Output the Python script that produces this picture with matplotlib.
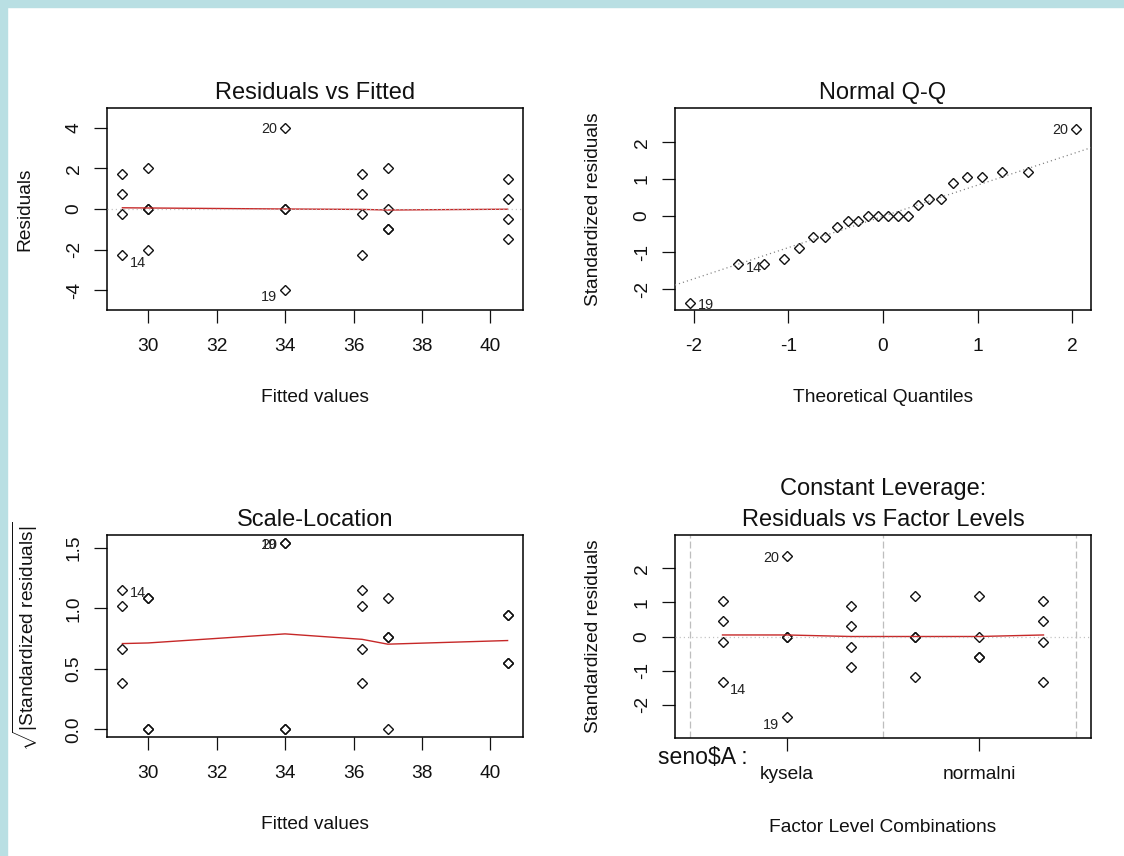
import matplotlib
matplotlib.use('Agg')
import matplotlib.pyplot as plt
from matplotlib.patches import Rectangle
import numpy as np

plt.rcParams['font.family'] = ['Liberation Sans', 'DejaVu Sans']
plt.rcParams['axes.unicode_minus'] = False
plt.rcParams['lines.scale_dashes'] = False
plt.rcParams['mathtext.fontset'] = 'custom'
plt.rcParams['mathtext.rm'] = 'Liberation Sans'
plt.rcParams['mathtext.it'] = 'Liberation Sans:italic'
plt.rcParams['mathtext.bf'] = 'Liberation Sans:bold'

obs_id = list(range(1, 25))
fitted = [30, 30, 30, 30, 37, 37, 37, 37, 40.5, 40.5, 40.5, 40.5,
          29.25, 29.25, 29.25, 29.25, 34, 34, 34, 34, 36.25, 36.25, 36.25, 36.25]
resid = [2, 0, 0, -2, 2, 0, -1, -1, 1.5, 0.5, -0.5, -1.5,
         1.75, -2.25, 0.75, -0.25, 0, 0, -4, 4, 1.75, 0.75, -0.25, -2.25]
std_resid = [1.18, 0, 0, -1.18, 1.18, 0, -0.59, -0.59, 0.89, 0.30, -0.30, -0.89,
             1.04, -1.33, 0.44, -0.15, 0, 0, -2.37, 2.37, 1.04, 0.44, -0.15, -1.33]
factor_pos = [4, 4, 4, 4, 5, 5, 5, 5, 3, 3, 3, 3,
              1, 1, 1, 1, 2, 2, 2, 2, 6, 6, 6, 6]
factor_levels = ['kysela', 'normalni']
factor_level_at = [2, 5]
factor_bounds = [0.5, 3.5, 6.5]
theo_q = [-2.04, -1.53, -1.26, -1.05, -0.89, -0.74, -0.61, -0.49, -0.37, -0.26, -0.16, -0.05,
          0.05, 0.16, 0.26, 0.37, 0.49, 0.61, 0.74, 0.89, 1.05, 1.26, 1.53, 2.04]
qq_slope = 0.85
qq_intercept = -0.02

smooth_x = [29.25, 30, 34, 36.25, 37, 40.5]
smooth_rvf = [0.06, 0.05, 0.0, -0.02, -0.05, -0.01]
smooth_sl = [0.71, 0.715, 0.79, 0.745, 0.705, 0.735]
smooth_fx = [1, 2, 3, 4, 5, 6]
smooth_flv = [0.045, 0.045, 0.0, 0.0, 0.0, 0.045]

labelled = [14, 19, 20]

fitted = np.array(fitted)
resid = np.array(resid)
std_resid = np.array(std_resid)
factor_pos = np.array(factor_pos)
sqrt_std = np.sqrt(np.abs(std_resid))
qq_x = np.zeros(len(std_resid))
qq_x[np.argsort(std_resid, kind='stable')] = theo_q

W, H = 1124, 856
BORDER = '#b9dfe3'
RED = '#c62828'
GRAY = '#bebebe'
TXT = 13.8
MAIN = 17
ID = 10.4

fig = plt.figure(figsize=(W / 100, H / 100), dpi=100)
fig.patches.append(Rectangle((0, 1 - 7 / H), 1, 7 / H, transform=fig.transFigure,
                             color=BORDER, zorder=0))
fig.patches.append(Rectangle((0, 0), 7 / W, 1, transform=fig.transFigure,
                             color=BORDER, zorder=0))


def panel(x0, y0, x1, y1):
    ax = fig.add_axes([x0 / W, 1 - y1 / H, (x1 - x0) / W, (y1 - y0) / H])
    for s in ax.spines.values():
        s.set_linewidth(1.1)
        s.set_color('black')
    ax.tick_params(length=9.1, width=0.9, labelsize=TXT, colors='#111111')
    ax.tick_params(axis='x', pad=17.5)
    ax.tick_params(axis='y', pad=14.5, labelrotation=90)
    return ax


def finish(ax, title, xlabel, ylabel, ly=-0.435):
    plt.setp(ax.get_yticklabels(), ha='center', va='center')
    plt.setp(ax.get_xticklabels(), va='center')
    if isinstance(title, str):
        title = [title]
    for i, t in enumerate(reversed(title)):
        ax.text(0.5, 1 + (9 + 31 * i) / 202, t, transform=ax.transAxes,
                ha='center', va='baseline', fontsize=MAIN, color='#111111')
    ax.text(0.5, ly, xlabel, transform=ax.transAxes, ha='center', va='center',
            fontsize=TXT, color='#111111')
    ax.text(-0.197, 0.5, ylabel, transform=ax.transAxes, ha='center', va='center',
            rotation=90, fontsize=TXT, color='#111111')


def points(ax, x, y):
    ax.plot(x, y, ls='none', marker='D', ms=4.8, mfc='none', mec='#111111',
            mew=1.0, zorder=3)


def ids(ax, x, y, side, dys):
    for k, n in enumerate(labelled):
        i = obs_id.index(n)
        dx = 5.5 if side[k] == 'r' else -5.5
        ax.annotate(str(n), (x[i], y[i]), xytext=(dx, dys[k]), textcoords='offset points',
                    ha='left' if side[k] == 'r' else 'right', va='center',
                    fontsize=ID, color='#222222', annotation_clip=False)


# Residuals vs Fitted
ax1 = panel(107, 108, 523, 310)
points(ax1, fitted, resid)
ax1.plot(smooth_x, smooth_rvf, color=RED, lw=1.0, zorder=4)
ax1.axhline(0, color=GRAY, lw=0.9, dashes=(0.8, 2.2), zorder=5)
ax1.set_xlim(28.8, 40.95)
ax1.set_ylim(-4.98, 4.98)
ax1.set_xticks([30, 32, 34, 36, 38, 40])
ax1.set_yticks([-4, -2, 0, 2, 4])
ids(ax1, fitted, resid, ['r', 'l', 'l'], [-6, -5, -1])
finish(ax1, 'Residuals vs Fitted', 'Fitted values', 'Residuals')

# Normal Q-Q
ax2 = panel(675, 108, 1091, 310)
points(ax2, qq_x, std_resid)
ax2.axline((0, qq_intercept), slope=qq_slope, color='#7f7f7f', lw=0.9,
           dashes=(0.8, 2.2), zorder=5)
ax2.set_xlim(-2.2, 2.2)
ax2.set_ylim(-2.57, 2.93)
ax2.set_xticks([-2, -1, 0, 1, 2])
ax2.set_yticks([-2, -1, 0, 1, 2])
ids(ax2, qq_x, std_resid, ['r', 'r', 'l'], [-2.5, -1.5, -0.8])
finish(ax2, 'Normal Q-Q', 'Theoretical Quantiles', 'Standardized residuals')

# Scale-Location
ax3 = panel(107, 535, 523, 737)
points(ax3, fitted, sqrt_std)
ax3.plot(smooth_x, smooth_sl, color=RED, lw=1.0, zorder=4)
ax3.set_xlim(28.8, 40.95)
ax3.set_ylim(-0.062, 1.607)
ax3.set_xticks([30, 32, 34, 36, 38, 40])
ax3.set_yticks([0.0, 0.5, 1.0, 1.5])
ax3.set_yticklabels(['0.0', '0.5', '1.0', '1.5'])
ids(ax3, fitted, sqrt_std, ['r', 'l', 'l'], [-2, -1.5, -1.5])
finish(ax3, 'Scale-Location', 'Fitted values',
       r'$\sqrt{|\mathrm{Standardized\ residuals}|}$')

# Constant Leverage: Residuals vs Factor Levels
ax4 = panel(675, 535, 1091, 738)
for b in factor_bounds:
    ax4.axvline(b, color=GRAY, lw=0.9, dashes=(5.0, 2.2), zorder=1)
points(ax4, factor_pos, std_resid)
ax4.plot(smooth_fx, smooth_flv, color=RED, lw=1.0, zorder=4)
ax4.axhline(0, color=GRAY, lw=0.9, dashes=(0.8, 2.2), zorder=5)
ax4.set_xlim(0.26, 6.74)
ax4.set_ylim(-2.97, 2.97)
ax4.set_xticks(factor_level_at)
ax4.set_xticklabels(factor_levels)
ax4.set_yticks([-2, -1, 0, 1, 2])
ids(ax4, factor_pos, std_resid, ['r', 'l', 'l'], [-5.5, -5.5, -1.5])
ax4.text(-0.041, -19 / 203, 'seno$A :', transform=ax4.transAxes, ha='left', va='center',
         fontsize=16.6, color='#111111')
finish(ax4, ['Constant Leverage:', 'Residuals vs Factor Levels'],
       'Factor Level Combinations', 'Standardized residuals', ly=-0.44)

fig.savefig('out.png', dpi=100, facecolor='white')
